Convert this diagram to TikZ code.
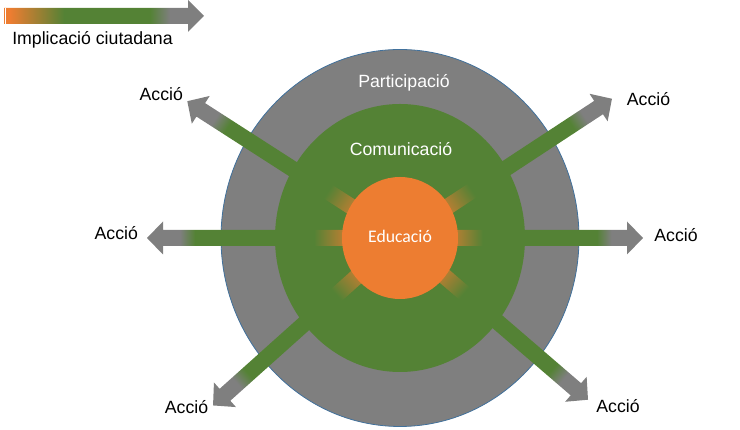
\documentclass[tikz,border=0pt]{standalone}
\usepackage{fontspec}
\setmainfont{Liberation Sans}
\newfontfamily\edufont{Carlito}
\usepackage{tikz}
\definecolor{ringgray}{HTML}{7F7F7F}
\definecolor{ringgreen}{HTML}{548235}
\definecolor{coreorange}{HTML}{ED7D31}
\definecolor{ringedge}{HTML}{41719C}
\pgfdeclarehorizontalshading{action-shade}{100bp}{color(0bp)=(coreorange); color(33bp)=(coreorange); color(42bp)=(ringgreen); color(65.5bp)=(ringgreen); color(68.5bp)=(ringgray); color(100bp)=(ringgray)}
\pgfdeclarehorizontalshading{legend-shade}{100bp}{color(0bp)=(coreorange); color(26.5bp)=(coreorange); color(40bp)=(ringgreen); color(61.5bp)=(ringgreen); color(66.5bp)=(ringgray); color(100bp)=(ringgray)}
\tikzset{
    ring-label/.style = {text=white, anchor=base, inner sep=0pt, font=\fontsize{17.7}{20}\selectfont},
    action-label/.style = {text=black, anchor=base, inner sep=0pt, font=\fontsize{17.7}{20}\selectfont},
}
% fat arrow from the centre: angle, length
\newcommand{\actionarrow}[2]{%
  \begin{scope}[transform canvas={shift={(400pt,192pt)},rotate=#1}]
    \shade[shading=action-shade] (0,-8) -- ({#2-16},-8) -- ({#2-16},-16.5) -- (#2,0)
      -- ({#2-16},16.5) -- ({#2-16},8) -- (0,8) -- cycle;
  \end{scope}}

\begin{document}
\begin{tikzpicture}[x=1pt,y=1pt]
\useasboundingbox (0,0) rectangle (740,430);
% legend
\shade[shading=legend-shade] (4,406) -- (188,406) -- (188,398) -- (204,414) -- (188,430) -- (188,422) -- (4,422) -- cycle;
\draw[white, line width=0.6pt] (5.6,406) -- (5.6,422);
\node[action-label] (legend-text) at (92.5,385) {Implicació ciutadana};
% rings
\fill[ringgray, draw=ringedge, line width=0.8pt] (400,192) ellipse [x radius=179, y radius=188.5];
\fill[ringgreen] (400,192) ellipse [x radius=125, y radius=134];
% actions
\actionarrow{33.3}{253.6}
\actionarrow{147.25}{252.9}
\actionarrow{0}{243}
\actionarrow{180}{253}
\actionarrow{221.85}{251}
\actionarrow{319.3}{248}
\fill[coreorange] (400,192) ellipse [x radius=58, y radius=61];
% texts
\node[ring-label] (part-text) at (404,342) {Participació};
\node[ring-label] (comm-text) at (401,274) {Comunicació};
\node[ring-label, font=\edufont\fontsize{17.7}{20}\selectfont] (edu-text) at (400,187) {Educació};
\node[action-label] (act-nw) at (161.3,329) {Acció};
\node[action-label] (act-ne) at (648.5,324) {Acció};
\node[action-label] (act-w) at (116.3,190) {Acció};
\node[action-label] (act-e) at (676,188) {Acció};
\node[action-label] (act-sw) at (186.5,16) {Acció};
\node[action-label] (act-se) at (618,17) {Acció};
\end{tikzpicture}
\end{document}
